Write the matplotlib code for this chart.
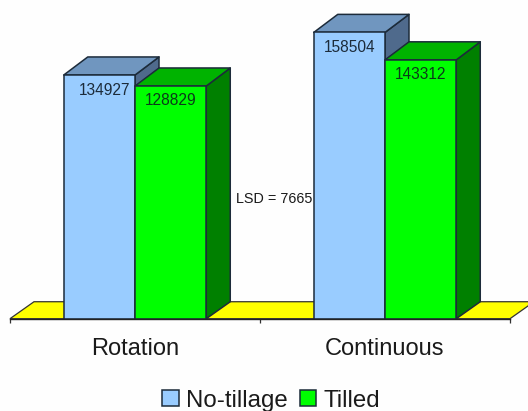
import matplotlib
matplotlib.use("Agg")
import matplotlib.pyplot as plt
from matplotlib.patches import Patch, Polygon

plt.rcParams['font.family'] = ['Liberation Sans', 'DejaVu Sans']

categories = ["Rotation", "Continuous"]
no_tillage = [134927, 158504]
tilled = [128829, 143312]
lsd_label = "LSD = 7665"

bar_w = 0.285
depth_x = 0.096   # 3d offset, in axis units
depth_y = 10000
floor_y = 9400

blue = ("#99CCFF", "#7096BF", "#4F6A8C")  # front, top, side
green = ("#00FF00", "#00B300", "#008000")
edge = "#1C2B3A"


def box(ax, x0, x1, v, cols):
    # front, side, top faces of one 3d bar
    faces = [
        ([(x1, 0), (x1 + depth_x, floor_y), (x1 + depth_x, v + depth_y), (x1, v)], cols[2]),
        ([(x0, v), (x0 + depth_x, v + depth_y), (x1 + depth_x, v + depth_y), (x1, v)], cols[1]),
        ([(x0, 0), (x1, 0), (x1, v), (x0, v)], cols[0]),
    ]
    for pts, c in faces:
        ax.add_patch(Polygon(pts, closed=True, facecolor=c, edgecolor=edge, lw=1.1,
                             joinstyle="round", clip_on=False))


fig = plt.figure(figsize=(5.28, 4.11), dpi=100, facecolor="#FEFEFE")
ax = fig.add_axes([10 / 528, (411 - 318.7) / 411, 500 / 528, 318.7 / 411])
ax.set_xlim(-0.5, 1.5)
ax.set_ylim(0, 176467)
ax.patch.set_visible(False)
for s in ["top", "left", "right"]:
    ax.spines[s].set_visible(False)
ax.spines["bottom"].set_linewidth(1.0)
ax.spines["bottom"].set_color("#222222")
ax.yaxis.set_visible(False)

# yellow floor
ax.add_patch(Polygon([(-0.5, 0), (-0.5 + depth_x, floor_y), (1.5 + depth_x, floor_y), (1.5, 0)],
                     closed=True, facecolor="#FFFF00", edgecolor="#333333", lw=0.9, clip_on=False))

for i in range(len(categories)):
    box(ax, i - bar_w, i, no_tillage[i], blue)
    box(ax, i, i + bar_w, tilled[i], green)

label_nudge = [0.022, 0]
for i in range(len(categories)):
    ax.annotate(str(no_tillage[i]), (i - bar_w / 2 + label_nudge[i], no_tillage[i]),
                xytext=(0, -10.8), textcoords="offset points", ha="center", va="center",
                fontsize=11.2, color="#1C2B3A")
    ax.annotate(str(tilled[i]), (i + bar_w / 2, tilled[i]),
                xytext=(0, -10.3), textcoords="offset points", ha="center", va="center",
                fontsize=11.2, color="#0B3A1A")

ax.text(0.558, 66500, lsd_label, ha="center", va="center", fontsize=10.4, color="#1a1a1a")

ax.set_xticks(range(len(categories)))
ax.set_xticklabels(categories, fontsize=17, color="#1a1a1a")
ax.set_xticks([-0.5, 0.5, 1.5], minor=True)
ax.tick_params(axis="x", which="major", length=0, pad=13.7)
ax.tick_params(axis="x", which="minor", length=3.2, width=0.9, color="#333333", direction="out")

handles = [Patch(facecolor=blue[0], edgecolor=edge, lw=1.1),
           Patch(facecolor=green[0], edgecolor=edge, lw=1.1)]
fig.legend(handles, ["No-tillage", "Tilled"], ncol=2, frameon=False, fontsize=17.3,
           loc="center", bbox_to_anchor=(271 / 528, (411 - 400.5) / 411),
           handlelength=0.68, handleheight=0.68, handletextpad=0.3, columnspacing=0.5,
           labelcolor="#1a1a1a", borderpad=0, borderaxespad=0)

fig.savefig("out.png", dpi=100, facecolor=fig.get_facecolor())
